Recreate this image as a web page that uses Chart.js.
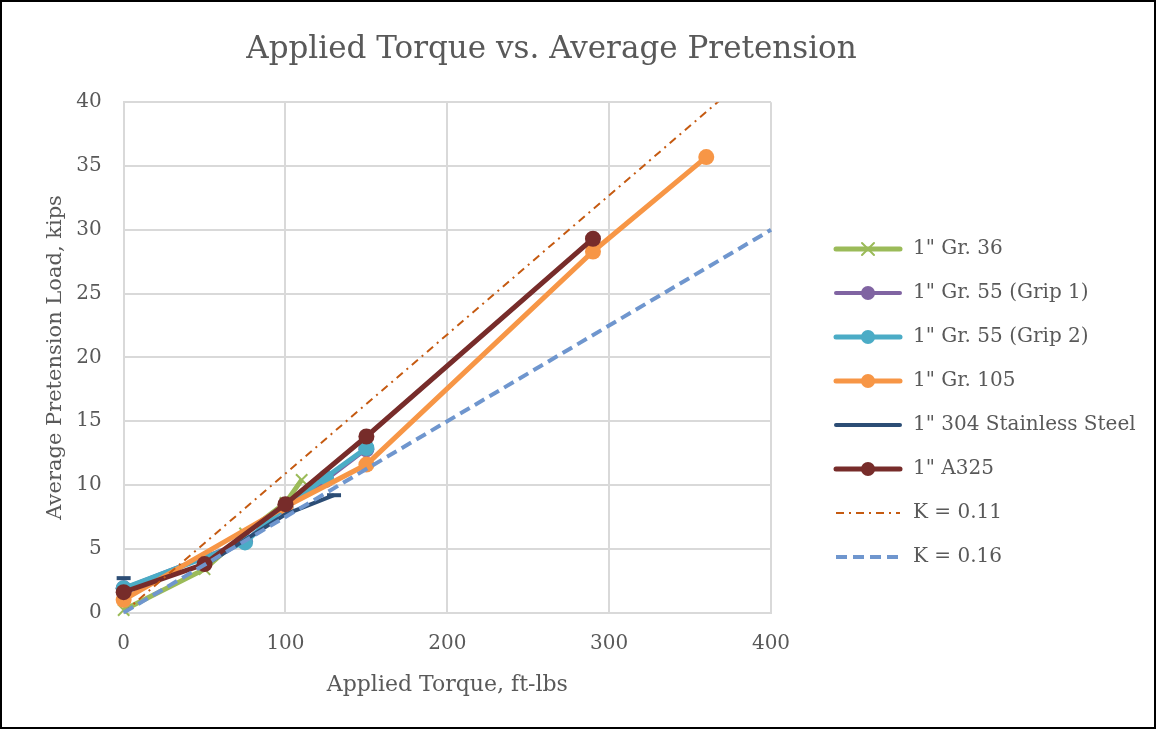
<!DOCTYPE html>
<html>
<head>
<meta charset="utf-8">
<script src="https://cdn.jsdelivr.net/npm/chart.js@4.4.1/dist/chart.umd.min.js"></script>
<style>
  html, body { margin: 0; padding: 0; background: #fff; }
  #wrap { width: 1156px; height: 729px; box-sizing: border-box; border: 2px solid #000; position: relative; }
  canvas { display: block; }
</style>
</head>
<body>
<div id="wrap"><canvas id="chart" width="1152" height="725"></canvas></div>
<script>
// values
const xTicks = [0, 100, 200, 300, 400];
const yTicks = [0, 5, 10, 15, 20, 25, 30, 35, 40];

const gr36X = [0, 50, 75, 100, 110];
const gr36Y = [0.2, 3.4, 6.2, 8.6, 10.4];

const grip1X = [0, 75, 100, 125, 150];
const grip1Y = [1.9, 5.6, 8.2, 10.4, 12.8];

const grip2X = [0, 75, 100, 125, 150];
const grip2Y = [1.9, 5.5, 8.3, 10.6, 12.9];

const gr105X = [0, 100, 150, 290, 360];
const gr105Y = [1.0, 8.3, 11.6, 28.3, 35.7];

const ss304X = [0, 25, 50, 75, 100, 130];
const ss304Y = [2.7, null, 3.7, 5.7, 7.7, 9.2];

const a325X = [0, 50, 100, 150, 290];
const a325Y = [1.6, 3.8, 8.5, 13.8, 29.3];

const k11X = [0, 400];
const k11Y = [0, 43.6];

const k16X = [0, 400];
const k16Y = [0, 30];

const textColor = '#595959';
const serif = "'DejaVu Serif', 'Liberation Serif', serif";

function pts(xs, ys) {
    return xs.map((x, i) => ({ x: x, y: ys[i] }));
}

// little picture for the legend: line + marker
function legendIcon(color, lw, marker, dash) {
    let c = document.createElement('canvas');
    c.width = 70;
    c.height = 20;
    let g = c.getContext('2d');
    g.strokeStyle = color;
    g.lineWidth = lw;
    g.lineCap = dash ? 'butt' : 'round';
    if (dash) g.setLineDash(dash);
    g.beginPath();
    g.moveTo(3, 10);
    g.lineTo(67, 10);
    g.stroke();
    g.setLineDash([]);
    if (marker == 'circle') {
        g.fillStyle = color;
        g.beginPath();
        g.arc(35, 10, 7, 0, Math.PI * 2);
        g.fill();
    } else if (marker == 'cross') {
        g.lineWidth = 2;
        g.beginPath();
        g.moveTo(29, 4); g.lineTo(41, 16);
        g.moveTo(41, 4); g.lineTo(29, 16);
        g.stroke();
    }
    return c;
}

const series = [
    { label: '1" Gr. 36', data: pts(gr36X, gr36Y), color: '#9BBB59', lw: 5, marker: 'cross' },
    { label: '1" Gr. 55 (Grip 1)', data: pts(grip1X, grip1Y), color: '#8064A2', lw: 4, marker: 'circle' },
    { label: '1" Gr. 55 (Grip 2)', data: pts(grip2X, grip2Y), color: '#4BACC6', lw: 5, marker: 'circle' },
    { label: '1" Gr. 105', data: pts(gr105X, gr105Y), color: '#F79646', lw: 5, marker: 'circle' },
    { label: '1" 304 Stainless Steel', data: pts(ss304X, ss304Y), color: '#2C4D75', lw: 4, marker: 'dash' },
    { label: '1" A325', data: pts(a325X, a325Y), color: '#772C2A', lw: 5, marker: 'circle' },
    { label: 'K = 0.11', data: pts(k11X, k11Y), color: '#C55A11', lw: 2, marker: 'none', dash: [8, 5, 2, 5] },
    { label: 'K = 0.16', data: pts(k16X, k16Y), color: '#6F96CE', lw: 4, marker: 'none', dash: [11, 6] }
];

const datasets = series.map((s, i) => {
    let ds = {
        label: s.label,
        data: s.data,
        borderColor: s.color,
        backgroundColor: s.color,
        borderWidth: s.lw,
        borderDash: s.dash || [],
        pointRadius: 0,
        pointHoverRadius: 0,
        tension: 0,
        spanGaps: false,
        clip: false,
        order: series.length - i,
        icon: legendIcon(s.color, s.lw, s.marker, s.dash)
    };
    if (s.marker == 'circle') {
        ds.pointStyle = 'circle';
        ds.pointRadius = 8;
        ds.pointBorderWidth = 0;
    } else if (s.marker == 'cross') {
        ds.pointStyle = 'crossRot';
        ds.pointRadius = 8;
        ds.pointBorderWidth = 2;
    } else if (s.marker == 'dash') {
        ds.pointStyle = 'line';
        ds.pointRadius = s.data.map((p, j) => (j == 0 || j == s.data.length - 1) ? 7 : 0);
        ds.pointBorderWidth = 4;
    }
    if (s.label == 'K = 0.11') ds.clip = 0;
    return ds;
});

// put the legend block where the reference has it
const legendPlace = {
    id: 'legendPlace',
    beforeDraw(chart) {
        let lg = chart.legend;
        lg.left = 807;
        lg.right = 1150;
        lg.top = 213;
        lg.bottom = 589;
    }
};

new Chart(document.getElementById('chart'), {
    type: 'line',
    data: { datasets: datasets },
    plugins: [legendPlace],
    options: {
        responsive: false,
        animation: false,
        events: [],
        layout: { padding: { left: 30, right: 83, top: 10, bottom: 29 } },
        plugins: {
            title: {
                display: true,
                text: 'Applied Torque vs. Average Pretension',
                color: textColor,
                font: { family: serif, size: 31, weight: 'normal' },
                padding: { top: 19, bottom: 34 }
            },
            legend: {
                position: 'right',
                align: 'center',
                maxWidth: 300,
                labels: {
                    color: textColor,
                    font: { family: serif, size: 20 },
                    usePointStyle: true,
                    pointStyleWidth: 70,
                    padding: 24,
                    generateLabels(chart) {
                        return chart.data.datasets.map((ds, i) => ({
                            text: ds.label,
                            pointStyle: ds.icon,
                            fontColor: textColor,
                            hidden: false,
                            lineWidth: 0,
                            strokeStyle: 'rgba(0,0,0,0)',
                            fillStyle: 'rgba(0,0,0,0)',
                            datasetIndex: i
                        }));
                    }
                }
            },
            tooltip: { enabled: false }
        },
        scales: {
            x: {
                type: 'linear',
                min: 0,
                max: 400,
                afterBuildTicks(axis) { axis.ticks = xTicks.map(v => ({ value: v })); },
                grid: { color: '#D9D9D9', lineWidth: 2, drawTicks: false },
                border: { color: '#D9D9D9', width: 2 },
                ticks: { color: textColor, font: { family: serif, size: 20 }, padding: 19, maxRotation: 0 },
                title: {
                    display: true,
                    text: 'Applied Torque, ft-lbs',
                    color: textColor,
                    font: { family: serif, size: 22 },
                    padding: { top: -3, bottom: 0 }
                }
            },
            y: {
                type: 'linear',
                min: 0,
                max: 40,
                afterBuildTicks(axis) { axis.ticks = yTicks.map(v => ({ value: v })); },
                grid: { color: '#D9D9D9', lineWidth: 2, drawTicks: false },
                border: { color: '#D9D9D9', width: 2 },
                ticks: { color: textColor, font: { family: serif, size: 20 }, padding: 22 },
                title: {
                    display: true,
                    text: 'Average Pretension Load, kips',
                    color: textColor,
                    font: { family: serif, size: 21 },
                    padding: { top: 11, bottom: -14 }
                }
            }
        }
    }
});
</script>
</body>
</html>
